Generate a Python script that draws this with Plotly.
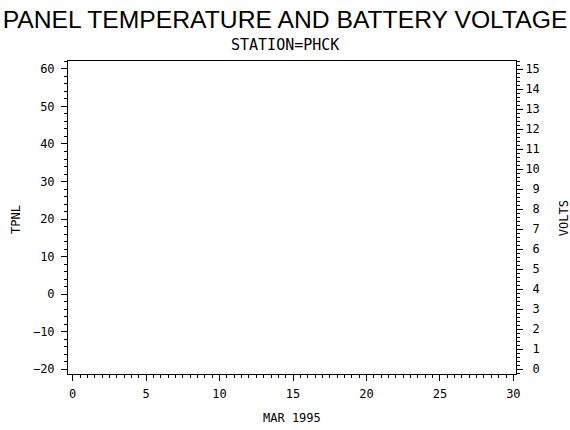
import plotly.graph_objects as go

# station PHCK, March 1995 -- no observations in this period
days = []
tpnl = []
volts = []

x_ticks = [0, 5, 10, 15, 20, 25, 30]
tpnl_ticks = [-20, -10, 0, 10, 20, 30, 40, 50, 60]
volt_ticks = list(range(0, 16))
volt_labels = [("\u00a0" + str(v)) if v < 10 else str(v) for v in volt_ticks]

mono = "DejaVu Sans Mono"
small = dict(family=mono, size=12, color="black")

fig = go.Figure()
fig.add_trace(go.Scatter(x=days, y=tpnl, mode="lines", line=dict(color="black"),
                         showlegend=False))
fig.add_trace(go.Scatter(x=days, y=volts, mode="lines", line=dict(color="black"),
                         yaxis="y2", showlegend=False))

axis_common = dict(showline=True, linecolor="black", linewidth=1, showgrid=False,
                   zeroline=False, ticks="outside", ticklen=6, tickcolor="black",
                   automargin=False, tickfont=small)

fig.update_layout(
    width=570, height=430,
    margin=dict(l=68, r=54, t=61, b=56),
    paper_bgcolor="white", plot_bgcolor="white",
    title=dict(text="PANEL TEMPERATURE AND BATTERY VOLTAGE",
               x=285 / 570, xanchor="center", y=1 - 19 / 430, yanchor="middle",
               font=dict(family="Liberation Sans", size=24.7, color="black")),
    xaxis=dict(axis_common, range=[-0.32, 30.18], tickvals=x_ticks, mirror=True,
               ticklabelstandoff=3,
               minor=dict(dtick=0.5, ticklen=3, ticks="outside", tickcolor="black")),
    yaxis=dict(axis_common, range=[-21.33, 62.13], tickvals=tpnl_ticks,
               ticklabelstandoff=4,
               minor=dict(dtick=2, ticklen=3, ticks="outside", tickcolor="black")),
    yaxis2=dict(axis_common, range=[-0.25, 15.4], tickvals=volt_ticks,
                ticktext=volt_labels, overlaying="y", side="right",
                minor=dict(dtick=0.2, ticklen=3, ticks="outside", tickcolor="black")),
)

fig.add_annotation(text="STATION=PHCK", xref="paper", yref="paper",
                   x=0.484, y=1 + 16 / 313, xanchor="center", yanchor="middle",
                   showarrow=False, font=dict(family=mono, size=15, color="black"))
fig.add_annotation(text="MAR 1995", xref="paper", yref="paper",
                   x=0.5, y=-44 / 313, xanchor="center", yanchor="middle",
                   showarrow=False, font=small)
fig.add_annotation(text="TPNL", xref="paper", yref="paper", textangle=-90,
                   x=-52 / 448, y=0.492, xanchor="center", yanchor="middle",
                   showarrow=False, font=small)
fig.add_annotation(text="VOLTS", xref="paper", yref="paper", textangle=-90,
                   x=496 / 448, y=0.498, xanchor="center", yanchor="middle",
                   showarrow=False, font=small)

# drop the default 8px page margin so the 570x430 figure sits flush in the window
fig.write_html("out.html", config={"displayModeBar": False},
               post_script="document.body.style.margin = '0';")
